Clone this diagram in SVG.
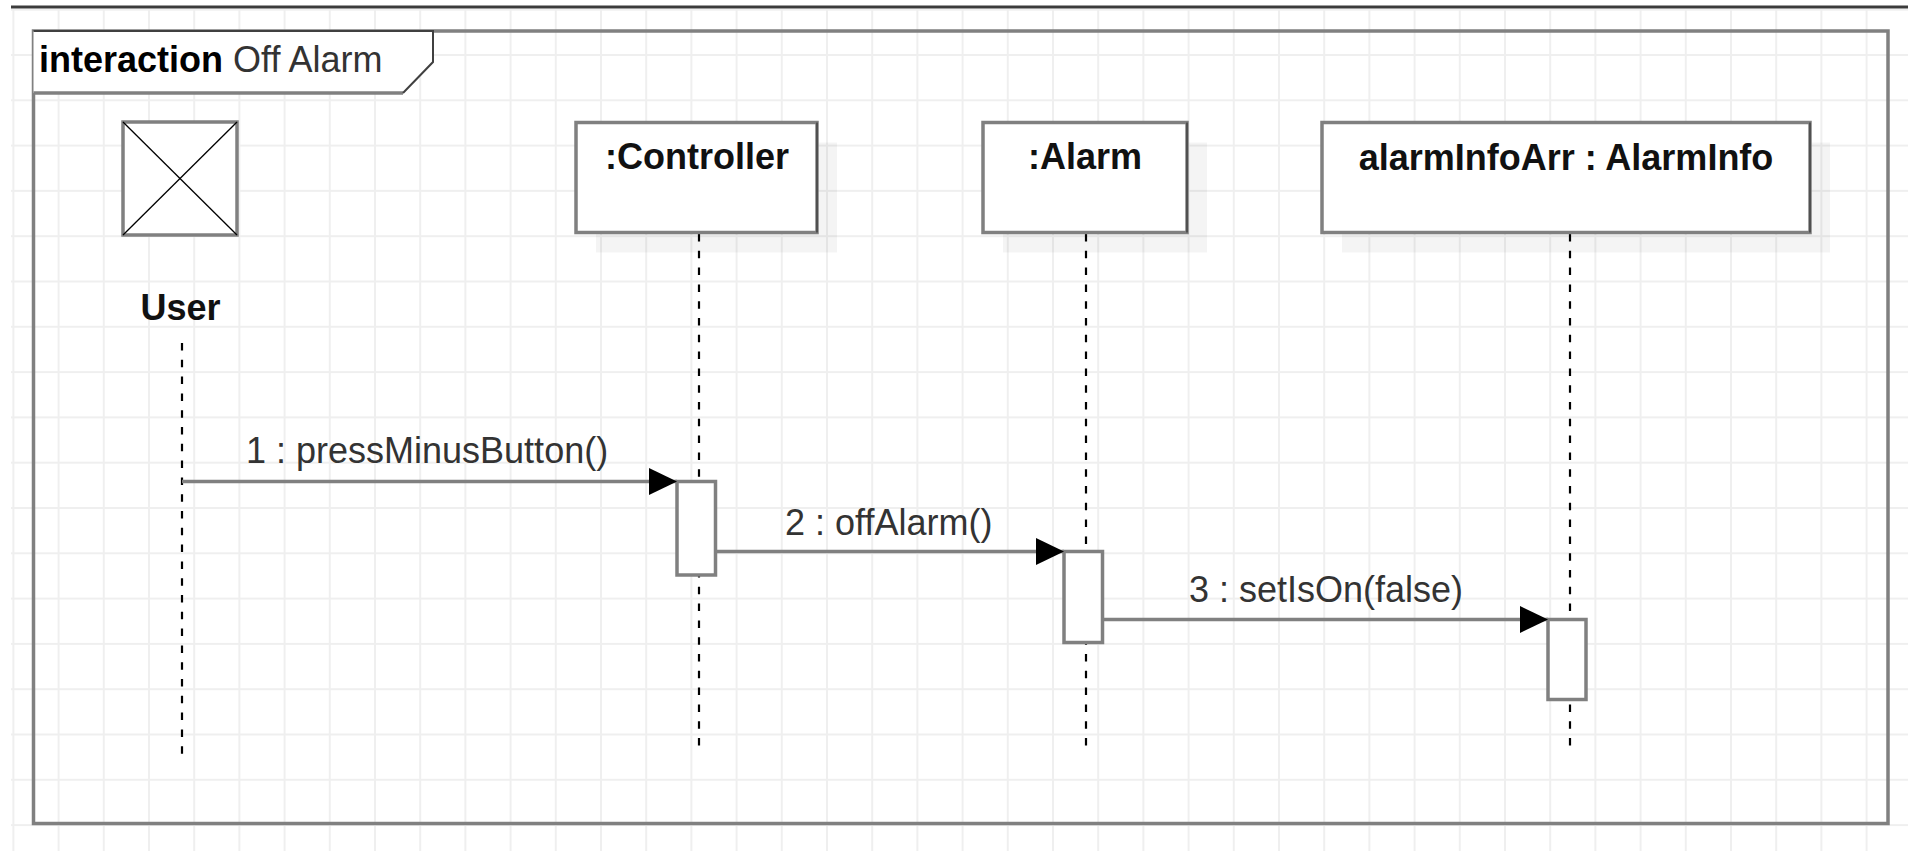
<svg xmlns="http://www.w3.org/2000/svg" width="1908" height="851" viewBox="0 0 1908 851">
  <defs>
    <pattern id="grid" patternUnits="userSpaceOnUse" x="12.4" y="8.7" width="45.2" height="45.3">
      <rect x="0" y="0" width="2" height="45.3" fill="#efefef"/>
      <rect x="0" y="0" width="45.2" height="2" fill="#efefef"/>
    </pattern>
    <marker id="arrow" markerUnits="userSpaceOnUse" markerWidth="30" markerHeight="30" refX="28" refY="13.5" orient="auto">
      <path d="M0,0 L28,13.5 L0,27 Z" fill="#000"/>
    </marker>
    <style>
      .frame { fill: none; stroke: #808080; stroke-width: 3.5; }
      .box { fill: #fff; stroke: #808080; stroke-width: 3.5; }
      .shadow { fill: #000; fill-opacity: 0.045; }
      .edge { stroke: #404040; stroke-width: 1.5; }
      .life { stroke: #000; stroke-width: 2.2; stroke-dasharray: 7.5 9.3; fill: none; }
      .act { fill: #fff; stroke: #808080; stroke-width: 3.5; }
      .msg { stroke: #808080; stroke-width: 3.5; fill: none; marker-end: url(#arrow); }
      .name { font-family: "Liberation Sans", Arial, sans-serif; font-size: 36px; font-weight: bold; fill: #111; text-anchor: middle; }
      .label { font-family: "Liberation Sans", Arial, sans-serif; font-size: 36px; fill: #333; }
    </style>
  </defs>

  <rect x="0" y="0" width="1908" height="851" fill="#fff"/>
  <rect x="11" y="9" width="1897" height="842" fill="url(#grid)"/>
  <line x1="11" y1="7" x2="1908" y2="7" stroke="#3c3c3c" stroke-width="3"/>

  <g id="frame">
    <rect class="frame" x="33.5" y="31" width="1854.5" height="792.5"/>
    <path d="M33.5,31 H433 V62 L403,93 H33.5 Z" fill="#fff" stroke="none"/>
    <path d="M403,93 H33.5" stroke="#808080" stroke-width="3.5" fill="none"/>
    <path d="M33.5,31 H433 V62 L403,93" stroke="#404040" stroke-width="2" fill="none"/>
    <text x="39" y="72" font-family="Liberation Sans, Arial, sans-serif" font-size="36"><tspan font-weight="bold" fill="#000">interaction</tspan><tspan fill="#333"> Off Alarm</tspan></text>
  </g>

  <g id="lifelines">
    <line class="life" x1="182" y1="343" x2="182" y2="756"/>
    <line class="life" x1="699" y1="234" x2="699" y2="752"/>
    <line class="life" x1="1086" y1="234" x2="1086" y2="752"/>
    <line class="life" x1="1570" y1="234" x2="1570" y2="752"/>
  </g>

  <g id="user">
    <rect class="box" x="123" y="122" width="114" height="113"/>
    <line x1="123" y1="122" x2="237" y2="235" stroke="#000" stroke-width="1.3"/>
    <line x1="237" y1="122" x2="123" y2="235" stroke="#000" stroke-width="1.3"/>
    <text class="name" x="180.5" y="320">User</text>
  </g>

  <g id="controller">
    <rect class="shadow" x="596" y="142.5" width="241" height="110"/>
    <rect class="box" x="576" y="122.5" width="241" height="110"/>
    <line class="edge" x1="817" y1="122.5" x2="817" y2="232.5"/>
    <text class="name" x="697" y="169">:Controller</text>
  </g>

  <g id="alarm">
    <rect class="shadow" x="1003" y="142.5" width="204" height="110"/>
    <rect class="box" x="983" y="122.5" width="204" height="110"/>
    <line class="edge" x1="1187" y1="122.5" x2="1187" y2="232.5"/>
    <text class="name" x="1085" y="169">:Alarm</text>
  </g>

  <g id="alarmInfoArr">
    <rect class="shadow" x="1342" y="142.5" width="488" height="110"/>
    <rect class="box" x="1322" y="122.5" width="488" height="110"/>
    <line class="edge" x1="1810" y1="122.5" x2="1810" y2="232.5"/>
    <text class="name" x="1566" y="170">alarmInfoArr : AlarmInfo</text>
  </g>

  <g id="activations">
    <rect class="act" x="677" y="481.5" width="38.5" height="93.5"/>
    <rect class="act" x="1064" y="551.5" width="38.5" height="91"/>
    <rect class="act" x="1548" y="619.5" width="38" height="80"/>
  </g>

  <g id="connectors">
    <line class="msg" x1="182" y1="481.5" x2="677" y2="481.5"/>
    <text class="label" x="246" y="463">1 : pressMinusButton()</text>
    <line class="msg" x1="715.5" y1="551.5" x2="1064" y2="551.5"/>
    <text class="label" x="785" y="535">2 : offAlarm()</text>
    <line class="msg" x1="1102.5" y1="619.5" x2="1548" y2="619.5"/>
    <text class="label" x="1189" y="602">3 : setIsOn(false)</text>
  </g>
</svg>
